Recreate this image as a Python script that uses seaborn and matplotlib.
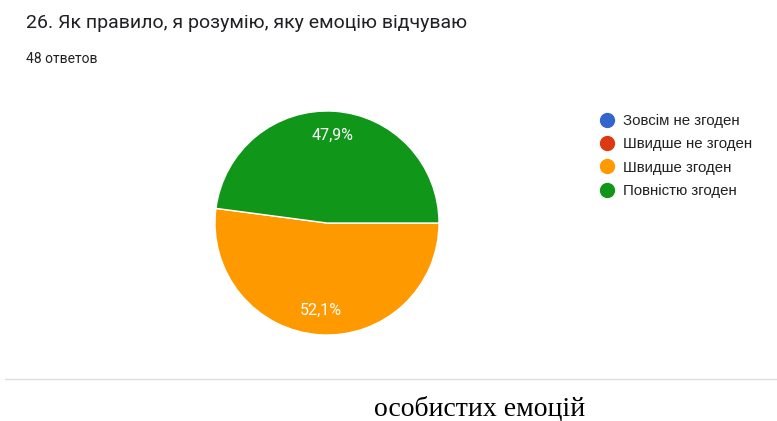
import numpy as np
import seaborn as sns
import matplotlib.pyplot as plt
from matplotlib.lines import Line2D

# data (48 responses)
categories = ["Зовсім не згоден", "Швидше не згоден", "Швидше згоден", "Повністю згоден"]
counts = [0, 0, 25, 23]
colors = ["#3366cc", "#dc3912", "#ff9900", "#109618"]
title = "26. Як правило, я розумію, яку емоцію відчуваю"
subtitle = "48 ответов"
footer = "особистих емоцій"

sns.set_theme(style="white")
plt.rcParams['font.family'] = ['Roboto', 'DejaVu Sans']

W, H = 777, 421
fig = plt.figure(figsize=(W / 100, H / 100), dpi=100)
fig.patch.set_facecolor("white")

# pie axes placed in pixel coordinates
cx, cy, r = 327, 223, 112
ax = fig.add_axes([(cx - r) / W, (H - cy - r) / H, 2 * r / W, 2 * r / H])


def fmt_pct(p):
    if p <= 0:
        return ""
    return f"{p:.1f}%".replace(".", ",")


wedges, texts, autotexts = ax.pie(
    counts, colors=colors, startangle=0, counterclock=False,
    autopct=fmt_pct, pctdistance=0.78,
    wedgeprops=dict(edgecolor="white", linewidth=1),
    textprops=dict(color="white", fontsize=11.5),
)
ax.set_xlim(-1, 1)
ax.set_ylim(-1, 1)
ax.set_aspect("equal")
ax.axis("off")

# title and response count
fig.text(26 / W, 1 - 23 / H, title, fontsize=14, color="#202124", va="center", ha="left")
fig.text(26 / W, 1 - 59 / H, subtitle, fontsize=10, color="#202124", va="center", ha="left")

# legend
handles = [Line2D([0], [0], marker="o", linestyle="", markersize=10,
                  markerfacecolor=c, markeredgecolor=c) for c in colors]
leg = fig.legend(handles, categories, loc="upper left",
                 bbox_to_anchor=(592 / W, 1 - 108 / H), frameon=False,
                 handletextpad=0.45, labelspacing=0.62,
                 borderaxespad=0, handlelength=1.2,
                 prop={"family": ["Liberation Sans", "DejaVu Sans"], "size": 10.8})
for t in leg.get_texts():
    t.set_color("#222222")

# separator line and footer text
fig.add_artist(Line2D([5 / W, 1], [1 - 379 / H, 1 - 379 / H], color="#dddddd", linewidth=1))
fig.text(480 / W, 1 - 409 / H, footer, fontsize=20, color="black", ha="center", va="center",
         family=["Liberation Serif", "DejaVu Serif"])

fig.savefig("out.png", dpi=100)
